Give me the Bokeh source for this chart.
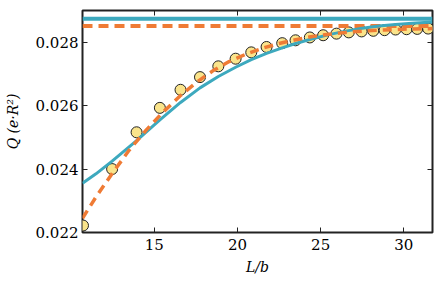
from bokeh.plotting import figure
from bokeh.embed import file_html
from bokeh.resources import INLINE
from bokeh.models import FixedTicker, PrintfTickFormatter, LinearAxis, Range1d

# data points (L/b, Q)
pts_x = [10.72, 12.47, 13.94, 15.34, 16.58, 17.75, 18.85, 19.89, 20.83, 21.75, 22.69,
         23.49, 24.35, 25.15, 25.95, 26.69, 27.46, 28.16, 28.84, 29.50, 30.16, 30.80, 31.46]
pts_y = [0.02222, 0.02400, 0.02516, 0.02593, 0.02650, 0.02690, 0.02724, 0.02748, 0.02768,
         0.02785, 0.02797, 0.02806, 0.02815, 0.02822, 0.02827, 0.02831, 0.02834, 0.02836,
         0.02838, 0.02840, 0.02841, 0.02842, 0.02843]

# teal model curve
teal_x = [10.69, 11.5, 12.47, 13.94, 15.34, 16.58, 17.75, 18.85, 19.89, 20.83, 21.75,
          22.69, 23.5, 24.5, 25.5, 26.5, 27.5, 28.5, 29.5, 30.5, 31.72]
teal_y = [0.02355, 0.02385, 0.02425, 0.02490, 0.02555, 0.02610, 0.02656, 0.02692, 0.02721,
          0.02745, 0.02765, 0.02782, 0.02796, 0.02811, 0.02824, 0.02835, 0.02844, 0.02851,
          0.02856, 0.02860, 0.02864]

# orange dashed fit curve
orange_x = [10.69, 11.5, 12.5, 13.5, 14.5, 15.5, 16.58, 17.5, 18.5, 19.5, 20.5, 21.5,
            22.5, 23.5, 24.5, 25.5, 26.5, 27.5, 28.5, 29.5, 30.5, 31.72]
orange_y = [0.02245, 0.02312, 0.02388, 0.02460, 0.02522, 0.02578, 0.02632, 0.02672, 0.02709,
            0.02739, 0.02762, 0.02781, 0.02796, 0.02808, 0.02818, 0.02825, 0.02831, 0.02835,
            0.02838, 0.02840, 0.02842, 0.02843]

# asymptotes
teal_limit = 0.02874
orange_limit = 0.02851

x_range = [10.69, 31.72]
y_range = [0.022, 0.0290]
x_ticks = [15, 20, 25, 30]
y_ticks = [0.022, 0.024, 0.026, 0.028]

TEAL = "#3da9be"
ORANGE = "#ef7b35"
FONT = "DejaVu Serif"

p = figure(frame_width=350, frame_height=222, output_backend="svg", toolbar_location=None,
           x_range=Range1d(*x_range), y_range=Range1d(*y_range),
           min_border_left=82, min_border_top=10, min_border_right=4, min_border_bottom=4)
p.grid.visible = False
p.background_fill_color = "white"
p.border_fill_color = "white"
p.outline_line_color = "#222222"
p.outline_line_width = 2

p.scatter(pts_x, pts_y, size=11, fill_color="#fae48b", line_color="#222222", line_width=1)
p.line(x_range, [teal_limit, teal_limit], line_color=TEAL, line_width=4)
p.line(x_range, [orange_limit, orange_limit], line_color=ORANGE, line_width=4, line_dash="10 6")
p.line(teal_x, teal_y, line_color=TEAL, line_width=3, line_join="round")
p.line(orange_x, orange_y, line_color=ORANGE, line_width=3.5, line_dash="9 6")

def style(ax, ticks, show):
    ax.ticker = FixedTicker(ticks=ticks)
    ax.minor_tick_line_color = None
    ax.major_tick_in = 5
    ax.major_tick_out = 0
    ax.major_tick_line_color = "#222222"
    ax.axis_line_color = None
    ax.major_label_text_font = FONT
    ax.major_label_text_font_size = "15px"
    ax.major_label_text_color = "black"
    if not show:
        ax.major_label_overrides = {t: "" for t in ticks}
        ax.major_label_standoff = 0

style(p.xaxis[0], x_ticks, True)
style(p.yaxis[0], y_ticks, True)
p.yaxis[0].formatter = PrintfTickFormatter(format="%.3f")
p.xaxis[0].major_label_standoff = 6
p.yaxis[0].major_label_standoff = 4

p.xaxis[0].axis_label = "L/b"
p.yaxis[0].axis_label = "Q (e·R²)"
for ax in (p.xaxis[0], p.yaxis[0]):
    ax.axis_label_text_font = FONT
    ax.axis_label_text_font_style = "italic"
    ax.axis_label_text_font_size = "14px"
    ax.axis_label_text_color = "black"
p.xaxis[0].axis_label_standoff = 6
p.yaxis[0].axis_label_standoff = 12

top = LinearAxis()
style(top, x_ticks, False)
p.add_layout(top, "above")
right = LinearAxis()
style(right, y_ticks, False)
p.add_layout(right, "right")

open("out.html", "w").write(file_html(p, INLINE))
